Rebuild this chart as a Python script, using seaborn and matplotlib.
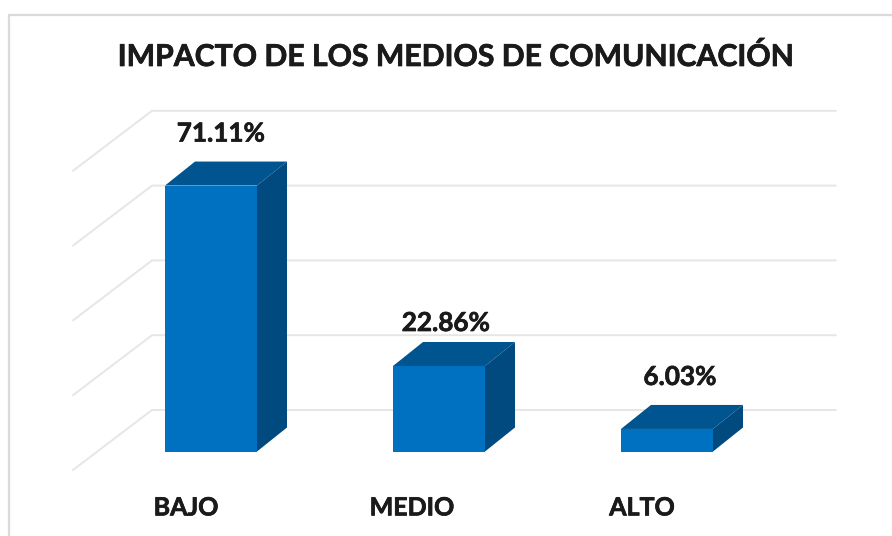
import numpy as np
import pandas as pd
import matplotlib
matplotlib.use("Agg")
import matplotlib.pyplot as plt
from matplotlib.lines import Line2D
from matplotlib.patches import Polygon
from matplotlib import patheffects
import seaborn as sns

categories = ["BAJO", "MEDIO", "ALTO"]
values = [71.11, 22.86, 6.03]
value_labels = ["71.11%", "22.86%", "6.03%"]
grid_levels = [0, 20, 40, 60, 80]
title = "IMPACTO DE LOS MEDIOS DE COMUNICACIÓN"

W, H = 892, 536
FRONT = "#0070C0"
TOP = "#00548F"
SIDE = "#004A7F"
GRID = "#E6E6E6"
INK = "#1a1a1a"

# pixels per data unit in the reference
PX_CAT = 228
PX_PCT = 3.74
BAR_BASE_PX = 451.5
CAT0_PX = 211
LEFT_PX, RIGHT_PX, WALL_PX = 73, 836, 152
AX_TOP_PX, AX_BOTTOM_PX = 110, 470


def px_x(px):
    return (px - CAT0_PX) / PX_CAT


def px_y(px):
    return (BAR_BASE_PX - px) / PX_PCT


sns.set_theme(style="white")
plt.rcParams["font.family"] = ["Lato", "DejaVu Sans"]

# a thin stroke thickens the bold text a bit
thick = [patheffects.withStroke(linewidth=0.5, foreground=INK)]

fig = plt.figure(figsize=(W / 100, H / 100), dpi=100)
ax = fig.add_axes([LEFT_PX / W, 1 - AX_BOTTOM_PX / H, (RIGHT_PX - LEFT_PX) / W, (AX_BOTTOM_PX - AX_TOP_PX) / H])

df = pd.DataFrame({"nivel": categories, "valor": values})
sns.barplot(data=df, x="nivel", y="valor", color=FRONT, saturation=1, width=92 / PX_CAT, linewidth=0, ax=ax, zorder=3)

ax.set_xlim(px_x(LEFT_PX), px_x(RIGHT_PX))
ax.set_ylim(px_y(AX_BOTTOM_PX), px_y(AX_TOP_PX))
sns.despine(ax=ax, left=True, bottom=True, top=True, right=True)
ax.set_xlabel("")
ax.set_ylabel("")
ax.set_yticks([])

# wall and floor lines, 0 of the wall sits at px 410, front edge at px 470
back_shift = (BAR_BASE_PX - 410) / PX_PCT
front_shift = (BAR_BASE_PX - 470) / PX_PCT
for lev in grid_levels:
    ax.plot([px_x(LEFT_PX), px_x(WALL_PX), px_x(RIGHT_PX)],
            [lev + front_shift, lev + back_shift, lev + back_shift],
            color=GRID, lw=1.4, zorder=1, clip_on=False, solid_joinstyle="miter")

# depth faces, built from the bars seaborn drew
dx = 30 / PX_CAT
dy = 24 / PX_PCT
for bar in ax.patches[:len(values)]:
    x0, x1 = bar.get_x(), bar.get_x() + bar.get_width()
    top = bar.get_height()
    ax.add_patch(Polygon([(x0, top), (x0 + dx, top + dy), (x1 + dx, top + dy), (x1, top)], color=TOP, lw=0, zorder=3))
    ax.add_patch(Polygon([(x1, 0), (x1 + dx, dy), (x1 + dx, top + dy), (x1, top)], color=SIDE, lw=0, zorder=3))

# data labels
label_dx = [10, 7, 13]
label_dy = [53, 44, 53]
for i, txt in enumerate(value_labels):
    ax.annotate(txt, (i, values[i]), xytext=(label_dx[i], label_dy[i] - 1), textcoords="offset pixels",
                ha="center", va="center", fontsize=18.8, fontweight="bold", color=INK, zorder=5, path_effects=thick)

# category labels sit on the front edge of the floor
ax.set_xticks(np.arange(len(categories)) - np.array([25, 27, 25]) / PX_CAT, categories)
ax.tick_params(axis="x", length=0, pad=19, labelsize=18, labelcolor=INK)
for lab in ax.get_xticklabels():
    lab.set_fontweight("bold")
    lab.set_path_effects(thick)

fig.text(455 / W, 1 - 56.5 / H, title, ha="center", va="center", fontsize=21.7, fontweight="bold", color=INK, path_effects=thick)

# chart frame
fig.add_artist(Line2D([9 / W, 9 / W, 1], [0, 1 - 15 / H, 1 - 15 / H], color="#DADADA", lw=1.6))

fig.savefig("out.png", dpi=100)
